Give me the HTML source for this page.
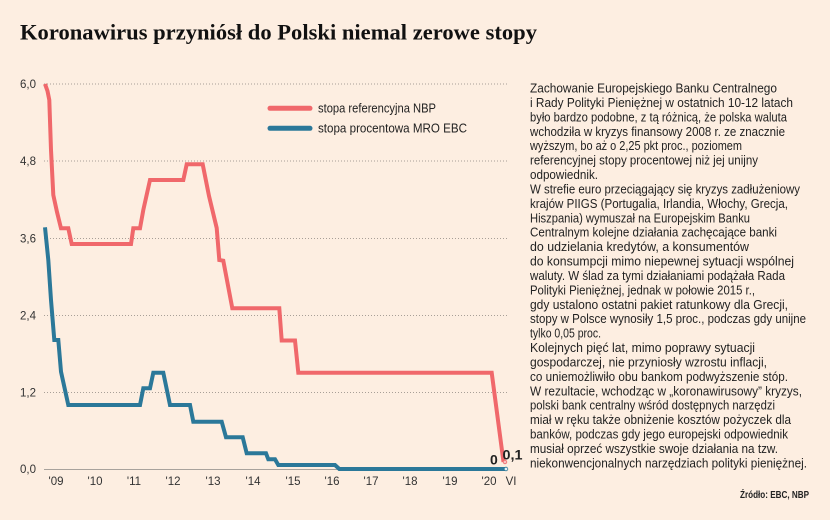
<!DOCTYPE html>
<html><head><meta charset="utf-8"><style>
html,body{margin:0;padding:0;background:#fdeee1;}
svg{display:block;}
</style></head><body>
<svg width="830" height="520" viewBox="0 0 830 520" xmlns="http://www.w3.org/2000/svg">
<rect width="830" height="520" fill="#fdeee1"/>
<text x="20" y="39.5" font-family="Liberation Serif, serif" font-weight="bold" font-size="22" fill="#111" textLength="517" lengthAdjust="spacingAndGlyphs">Koronawirus przyniósł do Polski niemal zerowe stopy</text>

<g stroke="#a89f97" stroke-width="1" stroke-dasharray="1 2">
<line x1="44" y1="84" x2="508" y2="84"/>
<line x1="44" y1="161" x2="508" y2="161"/>
<line x1="44" y1="238.5" x2="508" y2="238.5"/>
<line x1="44" y1="315.5" x2="508" y2="315.5"/>
<line x1="44" y1="392.5" x2="508" y2="392.5"/>
</g>
<line x1="44" y1="469.5" x2="508" y2="469.5" stroke="#a8a29c" stroke-width="1"/>

<g font-family="Liberation Sans, sans-serif" font-size="11.5" fill="#333" text-anchor="end">
<text x="36" y="88">6,0</text>
<text x="36" y="165">4,8</text>
<text x="36" y="242.5">3,6</text>
<text x="36" y="319.5">2,4</text>
<text x="36" y="396.5">1,2</text>
<text x="36" y="473">0,0</text>
</g>
<g font-family="Liberation Sans, sans-serif" font-size="11.5" fill="#333" text-anchor="middle">
<text x="56" y="485">'09</text>
<text x="95" y="485">'10</text>
<text x="134" y="485">'11</text>
<text x="173" y="485">'12</text>
<text x="213" y="485">'13</text>
<text x="253" y="485">'14</text>
<text x="293" y="485">'15</text>
<text x="332" y="485">'16</text>
<text x="371" y="485">'17</text>
<text x="410" y="485">'18</text>
<text x="450" y="485">'19</text>
<text x="489" y="485">'20</text>
<text x="511" y="485">VI</text>
</g>

<polyline fill="none" stroke="#2b7899" stroke-width="4" points="45,227.3 48.3,260 51,300 54.3,340 58.3,340 61,371.7 68.3,405 140,405 143.3,388.3 150,388.3 153.3,372.7 163.3,372.7 170,405 190,405 193.3,421.7 221.7,421.7 226,437.3 242.7,437.3 246.7,453.3 266,453.3 268.3,459.3 275,459.3 278.3,465 335,465 339.3,469 505,469"/>
<polyline fill="none" stroke="#f0686b" stroke-width="4" points="45,84 47.5,91 49.3,100 51,150 53.3,195 57,212 61,228.3 68.3,228.3 71.7,244 131,244 133.3,228.3 140,228.3 143.3,210 150,180 183.3,180 186.7,164.3 202.7,164.3 209,196 216.7,228 219.3,260 223.3,260.7 232.3,308.3 279.3,308.3 281.7,340.5 295,340.5 298.3,372.7 491.7,372.7 503.5,462"/>
<circle cx="505" cy="462" r="1.8" fill="#f7c2c0" stroke="#f0686b" stroke-width="0.8"/>
<circle cx="506" cy="469" r="1.8" fill="#e8f0f3" stroke="#2b7899" stroke-width="0.8"/>

<g font-family="Liberation Sans, sans-serif" font-weight="bold" font-size="14" fill="#222">
<text x="490" y="464.5">0</text>
<text x="502.5" y="459.5" textLength="20" lengthAdjust="spacingAndGlyphs">0,1</text>
</g>

<line x1="270" y1="108.3" x2="310" y2="108.3" stroke="#f0686b" stroke-width="5" stroke-linecap="round"/>
<line x1="270" y1="128.3" x2="310" y2="128.3" stroke="#2b7899" stroke-width="5" stroke-linecap="round"/>
<g font-family="Liberation Sans, sans-serif" font-size="12.5" fill="#222">
<text x="318" y="112.5" textLength="118" lengthAdjust="spacingAndGlyphs">stopa referencyjna NBP</text>
<text x="318" y="132.5" textLength="149" lengthAdjust="spacingAndGlyphs">stopa procentowa MRO EBC</text>
</g>

<g font-family="Liberation Sans, sans-serif" font-size="12.5" fill="#222">
<text x="530" y="92.5" textLength="247" lengthAdjust="spacingAndGlyphs">Zachowanie Europejskiego Banku Centralnego</text>
<text x="530" y="106.9" textLength="263" lengthAdjust="spacingAndGlyphs">i Rady Polityki Pieniężnej w ostatnich 10-12 latach</text>
<text x="530" y="121.3" textLength="257" lengthAdjust="spacingAndGlyphs">było bardzo podobne, z tą różnicą, że polska waluta</text>
<text x="530" y="135.8" textLength="255" lengthAdjust="spacingAndGlyphs">wchodziła w kryzys finansowy 2008 r. ze znacznie</text>
<text x="530" y="150.2" textLength="212" lengthAdjust="spacingAndGlyphs">wyższym, bo aż o 2,25 pkt proc., poziomem</text>
<text x="530" y="164.6" textLength="228" lengthAdjust="spacingAndGlyphs">referencyjnej stopy procentowej niż jej unijny</text>
<text x="530" y="179.0" textLength="68" lengthAdjust="spacingAndGlyphs">odpowiednik.</text>
<text x="530" y="193.4" textLength="270" lengthAdjust="spacingAndGlyphs">W strefie euro przeciągający się kryzys zadłużeniowy</text>
<text x="530" y="207.9" textLength="258" lengthAdjust="spacingAndGlyphs">krajów PIIGS (Portugalia, Irlandia, Włochy, Grecja,</text>
<text x="530" y="222.3" textLength="220" lengthAdjust="spacingAndGlyphs">Hiszpania) wymuszał na Europejskim Banku</text>
<text x="530" y="236.7" textLength="247" lengthAdjust="spacingAndGlyphs">Centralnym kolejne działania zachęcające banki</text>
<text x="530" y="251.1" textLength="219" lengthAdjust="spacingAndGlyphs">do udzielania kredytów, a konsumentów</text>
<text x="530" y="265.5" textLength="264" lengthAdjust="spacingAndGlyphs">do konsumpcji mimo niepewnej sytuacji wspólnej</text>
<text x="530" y="280.0" textLength="255" lengthAdjust="spacingAndGlyphs">waluty. W ślad za tymi działaniami podążała Rada</text>
<text x="530" y="294.4" textLength="225" lengthAdjust="spacingAndGlyphs">Polityki Pieniężnej, jednak w połowie 2015 r.,</text>
<text x="530" y="308.8" textLength="258" lengthAdjust="spacingAndGlyphs">gdy ustalono ostatni pakiet ratunkowy dla Grecji,</text>
<text x="530" y="323.2" textLength="276" lengthAdjust="spacingAndGlyphs">stopy w Polsce wynosiły 1,5 proc., podczas gdy unijne</text>
<text x="530" y="337.6" textLength="71" lengthAdjust="spacingAndGlyphs">tylko 0,05 proc.</text>
<text x="530" y="352.1" textLength="225" lengthAdjust="spacingAndGlyphs">Kolejnych pięć lat, mimo poprawy sytuacji</text>
<text x="530" y="366.5" textLength="237" lengthAdjust="spacingAndGlyphs">gospodarczej, nie przyniosły wzrostu inflacji,</text>
<text x="530" y="380.9" textLength="258" lengthAdjust="spacingAndGlyphs">co uniemożliwiło obu bankom podwyższenie stóp.</text>
<text x="530" y="395.3" textLength="272" lengthAdjust="spacingAndGlyphs">W rezultacie, wchodząc w „koronawirusowy” kryzys,</text>
<text x="530" y="409.7" textLength="245" lengthAdjust="spacingAndGlyphs">polski bank centralny wśród dostępnych narzędzi</text>
<text x="530" y="424.2" textLength="261" lengthAdjust="spacingAndGlyphs">miał w ręku także obniżenie kosztów pożyczek dla</text>
<text x="530" y="438.6" textLength="258" lengthAdjust="spacingAndGlyphs">banków, podczas gdy jego europejski odpowiednik</text>
<text x="530" y="453.0" textLength="248" lengthAdjust="spacingAndGlyphs">musiał oprzeć wszystkie swoje działania na tzw.</text>
<text x="530" y="467.4" textLength="277" lengthAdjust="spacingAndGlyphs">niekonwencjonalnych narzędziach polityki pieniężnej.</text>
</g>
<text x="740" y="498" font-family="Liberation Sans, sans-serif" font-weight="bold" font-size="10" fill="#222" textLength="69" lengthAdjust="spacingAndGlyphs">Źródło: EBC, NBP</text>
</svg>
</body></html>
